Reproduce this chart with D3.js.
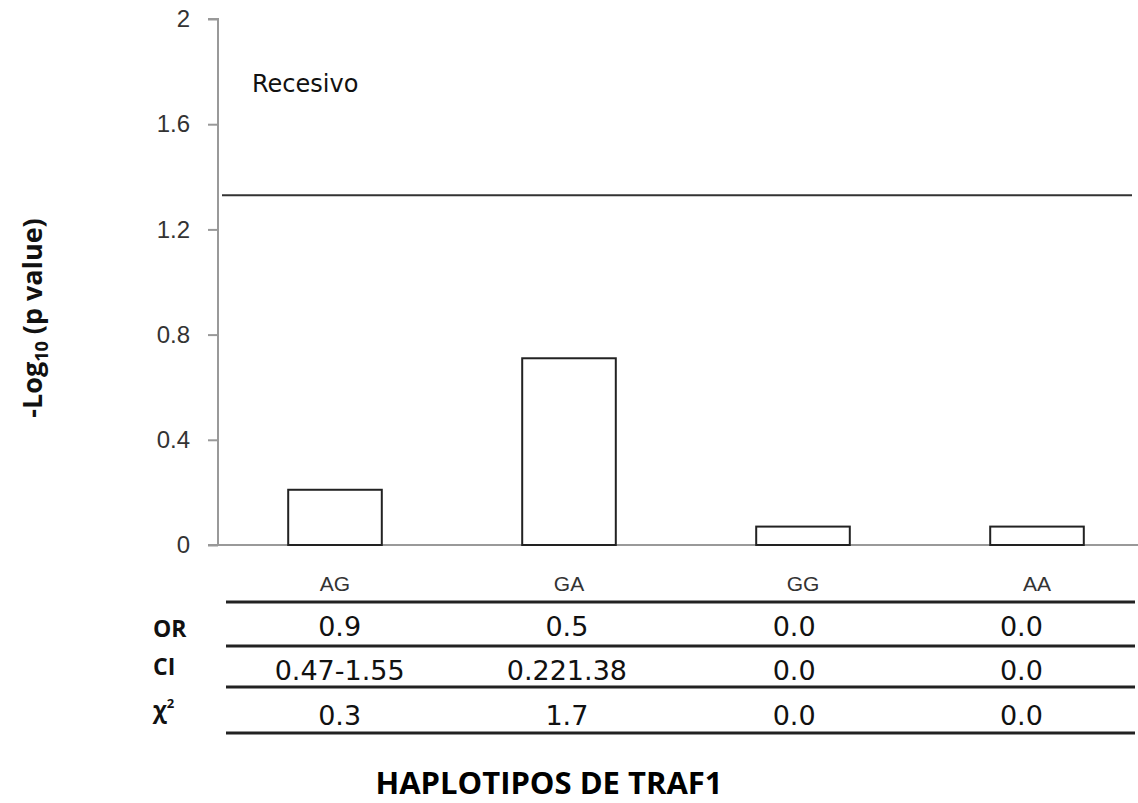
<!DOCTYPE html>
<html><head><meta charset="utf-8">
<script src="https://cdn.jsdelivr.net/npm/d3@7"></script>
<style>body{margin:0;background:#fff}svg{display:block}</style>
</head><body>
<script>
const categories = ["AG","GA","GG","AA"];
const values = [0.21, 0.71, 0.07, 0.07];
const threshold = 1.33;
const yTicks = [0, 0.4, 0.8, 1.2, 1.6, 2];
const rowLabels = ["OR","CI","χ"];
const orValues = ["0.9","0.5","0.0","0.0"];
const ciValues = ["0.47-1.55","0.221.38","0.0","0.0"];
const chiValues = ["0.3","1.7","0.0","0.0"];

const W = 1138, H = 803;
const svg = d3.select("body").append("svg").attr("width", W).attr("height", H);

const y = d3.scaleLinear().domain([0, 2]).range([545, 19]);
const x = d3.scaleBand().domain(categories).range([218, 1154]).paddingInner(0.6).paddingOuter(0.3);

// y axis
const yAxis = d3.axisLeft(y).tickValues(yTicks).tickSize(10).tickPadding(18)
  .tickFormat(d => d3.format("")(d));
const ga = svg.append("g").attr("transform", "translate(218,0)").call(yAxis);
ga.select(".domain").attr("stroke", "#999").attr("stroke-width", 2).attr("d", "M-10,19H0V545");
ga.selectAll(".tick line").attr("stroke", "#999").attr("stroke-width", 2);
ga.selectAll(".tick text").attr("fill", "#333").style("font-family", "Liberation Sans, Arial, sans-serif").style("font-size", "24px");

// baseline
svg.append("line").attr("x1", 208).attr("x2", 1138).attr("y1", y(0)).attr("y2", y(0))
  .attr("stroke", "#999").attr("stroke-width", 2);

// bars
svg.selectAll("rect.bar").data(values).join("rect").attr("class", "bar")
  .attr("x", (d, i) => x(categories[i])).attr("width", x.bandwidth())
  .attr("y", d => y(d)).attr("height", d => y(0) - y(d))
  .attr("fill", "#fff").attr("stroke", "#222").attr("stroke-width", 2);

// threshold
svg.append("line").attr("x1", 222).attr("x2", 1132).attr("y1", y(threshold)).attr("y2", y(threshold))
  .attr("stroke", "#333").attr("stroke-width", 2);

// Recesivo
svg.append("text").attr("x", 252).attr("y", 92).text("Recesivo")
  .style("font-family", "DejaVu Sans, sans-serif").style("font-size", "24px").attr("fill", "#111");

// category labels
svg.selectAll("text.cat").data(categories).join("text").attr("class", "cat")
  .attr("x", d => x(d) + x.bandwidth() / 2).attr("y", 591).attr("text-anchor", "middle")
  .text(d => d).style("font-family", "Liberation Sans, Arial, sans-serif").style("font-size", "21px").attr("fill", "#333");

// table
const tx = d3.scaleBand().domain(categories).range([226, 1135]);
const lineYs = [602, 646, 687, 733];
svg.selectAll("line.tl").data(lineYs).join("line").attr("class", "tl")
  .attr("x1", 226).attr("x2", 1135).attr("y1", d => d).attr("y2", d => d)
  .attr("stroke", "#222").attr("stroke-width", 3);

const rows = [orValues, ciValues, chiValues];
const rowBase = [636, 680, 725];
rows.forEach((r, ri) => {
  svg.selectAll("text.v" + ri).data(r).join("text").attr("class", "v" + ri)
    .attr("x", (d, i) => tx(categories[i]) + tx.bandwidth() / 2).attr("y", rowBase[ri])
    .attr("text-anchor", "middle").text(d => d)
    .style("font-family", "DejaVu Sans, sans-serif").style("font-size", "27px").attr("fill", "#111");
});
const labBase = [637, 675, 718];
rowLabels.forEach((l, i) => {
  const t = svg.append("text").attr("x", 153).attr("y", labBase[i])
    .style("font-family", "Open Sans, sans-serif").style("font-weight", "bold").style("font-size", "23px").attr("fill", "#111");
  t.append("tspan").text(l);
  if (l === "χ") t.append("tspan").attr("dy", -10).style("font-size", "13px").text("2");
});

// x title
svg.append("text").attr("x", 549).attr("y", 794).attr("text-anchor", "middle")
  .text("HAPLOTIPOS DE TRAF1").style("font-family", "Open Sans, sans-serif")
  .style("font-weight", "bold").style("font-size", "31px").attr("fill", "#000");

// y title
const yt = svg.append("text").attr("transform", "translate(42,318) rotate(-90)").attr("text-anchor", "middle")
  .style("font-family", "Open Sans, sans-serif").style("font-weight", "bold").style("font-size", "27px").attr("fill", "#111");
yt.append("tspan").text("-Log");
yt.append("tspan").attr("dy", 6).style("font-size", "18px").text("10");
yt.append("tspan").attr("dy", -6).text(" (p value)");
</script>
</body></html>
